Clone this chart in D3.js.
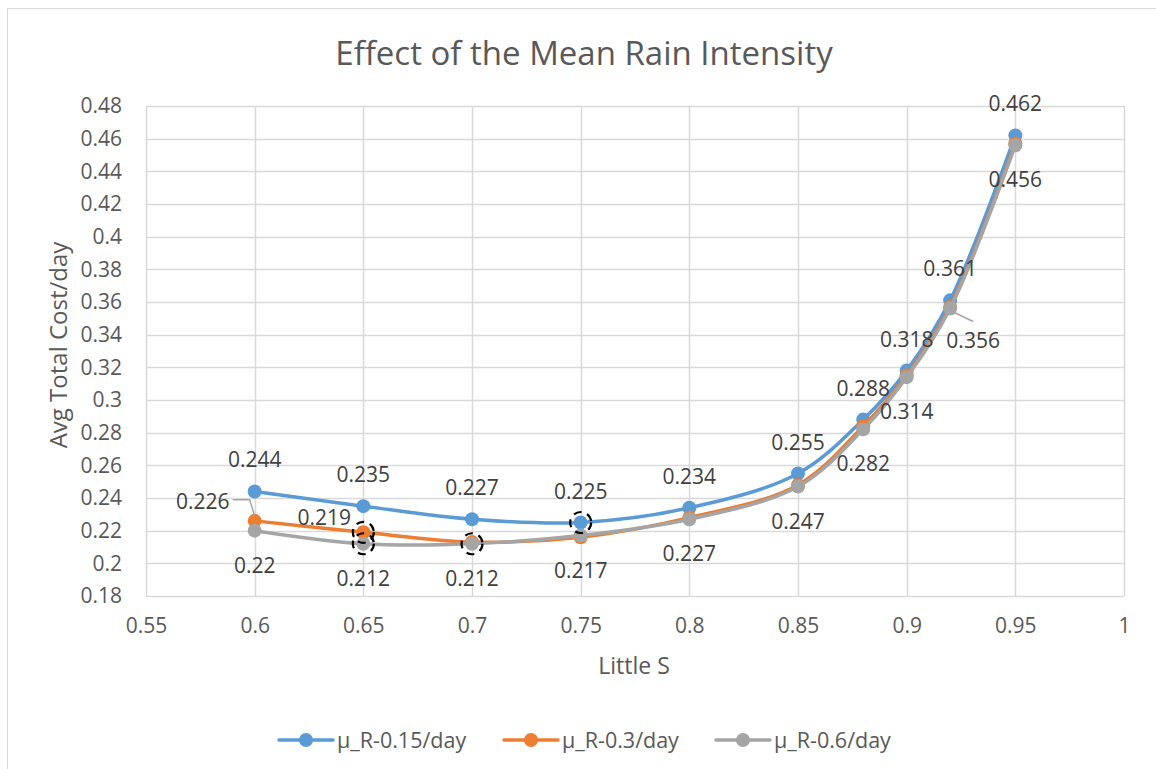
<!DOCTYPE html>
<html>
<head>
<meta charset="utf-8">
<script src="https://cdn.jsdelivr.net/npm/d3@7/dist/d3.min.js"></script>
<style>
  html, body { margin: 0; padding: 0; background: #fff; }
  svg { display: block; font-family: "Open Sans", "Noto Sans", sans-serif; }
</style>
</head>
<body>
<svg id="chart" width="1156" height="769"></svg>
<script>
// ---------------- DATA ----------------
const littleS = [0.6, 0.65, 0.7, 0.75, 0.8, 0.85, 0.88, 0.9, 0.92, 0.95];
const costR015 = [0.244, 0.235, 0.227, 0.225, 0.234, 0.255, 0.288, 0.318, 0.361, 0.462];
const costR03  = [0.226, 0.219, 0.213, 0.216, 0.228, 0.248, 0.284, 0.315, 0.357, 0.457];
const costR06  = [0.220, 0.212, 0.212, 0.217, 0.227, 0.247, 0.282, 0.314, 0.356, 0.456];
const seriesNames = ["μ_R-0.15/day", "μ_R-0.3/day", "μ_R-0.6/day"];
const xTicks = [0.55, 0.6, 0.65, 0.7, 0.75, 0.8, 0.85, 0.9, 0.95, 1];
const yTicks = [0.18, 0.2, 0.22, 0.24, 0.26, 0.28, 0.3, 0.32, 0.34, 0.36, 0.38, 0.4, 0.42, 0.44, 0.46, 0.48];
// which points get a data label (index lists), and the highlighted minima (dashed circles)
const labelledR015 = [0, 1, 2, 3, 4, 5, 6, 7, 8, 9];
const labelledR03  = [0, 1];
const labelledR06  = [0, 1, 2, 3, 4, 5, 6, 7, 8, 9];
const circledR015 = [3];
const circledR03  = [1];
const circledR06  = [1, 2];

// ---------------- STYLE / LAYOUT ----------------
const colors = ["#5B9BD5", "#ED7D31", "#A5A5A5"];
const plot = { left: 146, right: 1124, top: 106, bottom: 596 };
const textColor = "#404040";
const fontSize = 21;

const svg = d3.select("#chart");

// chart-area border
svg.append("rect").attr("x", 7.5).attr("y", 8.5).attr("width", 1160).attr("height", 780)
  .attr("fill", "#fff").attr("stroke", "#d9d9d9").attr("stroke-width", 1);

const x = d3.scaleLinear().domain([0.55, 1]).range([plot.left, plot.right]);
const y = d3.scaleLinear().domain([0.18, 0.48]).range([plot.bottom, plot.top]);

// gridlines
const g = svg.append("g");
g.selectAll(".hg").data(yTicks).join("line")
  .attr("x1", plot.left).attr("x2", plot.right)
  .attr("y1", d => Math.round(y(d)) + 0.5).attr("y2", d => Math.round(y(d)) + 0.5)
  .attr("stroke", "#d9d9d9").attr("stroke-width", 1.5);
g.selectAll(".vg").data(xTicks).join("line")
  .attr("y1", plot.top).attr("y2", plot.bottom)
  .attr("x1", d => Math.round(x(d)) + 0.5).attr("x2", d => Math.round(x(d)) + 0.5)
  .attr("stroke", "#d9d9d9").attr("stroke-width", 1.5);

// axes (labels only, via d3 axes)
const yAxis = d3.axisLeft(y).tickValues(yTicks).tickSize(0).tickPadding(24)
  .tickFormat(d => String(+d.toFixed(2)));
const xAxis = d3.axisBottom(x).tickValues(xTicks).tickSize(0).tickPadding(22)
  .tickFormat(d => String(+d.toFixed(2)));
const ya = svg.append("g").attr("transform", `translate(${plot.left},0)`).call(yAxis);
const xa = svg.append("g").attr("transform", `translate(0,${plot.bottom})`).call(xAxis);
[ya, xa].forEach(a => {
  a.select(".domain").remove();
  a.selectAll("text").attr("fill", "#595959").style("font-size", fontSize + "px")
    .style("font-family", '"Open Sans", sans-serif');
});

// title & axis titles
svg.append("text").attr("x", 584).attr("y", 65).attr("text-anchor", "middle")
  .attr("fill", "#595959").style("font-size", "33px").text("Effect of the Mean Rain Intensity");
svg.append("text").attr("x", 634).attr("y", 674).attr("text-anchor", "middle")
  .attr("fill", "#595959").style("font-size", "23px").text("Little S");
svg.append("text").attr("transform", "translate(67,345) rotate(-90)").attr("text-anchor", "middle")
  .attr("fill", "#595959").style("font-size", "24px").text("Avg Total Cost/day");

// series
const series = [costR015, costR03, costR06].map((vals, i) => ({
  name: seriesNames[i], color: colors[i],
  pts: littleS.map((s, j) => ({ s, v: vals[j] }))
}));
const line = d3.line().x(d => x(d.s)).y(d => y(d.v)).curve(d3.curveCatmullRom.alpha(0.5));

series.forEach(sr => {
  svg.append("path").datum(sr.pts).attr("d", line).attr("fill", "none")
    .attr("stroke", sr.color).attr("stroke-width", 3.5).attr("stroke-linecap", "round");
  svg.append("g").selectAll("circle").data(sr.pts).join("circle")
    .attr("cx", d => x(d.s)).attr("cy", d => y(d.v)).attr("r", 7).attr("fill", sr.color);
});

// dashed circles around minima
const circled = [circledR015, circledR03, circledR06];
circled.forEach((idx, i) => {
  idx.forEach(j => {
    svg.append("circle").attr("cx", x(littleS[j])).attr("cy", y(series[i].pts[j].v)).attr("r", 10.5)
      .attr("fill", "none").attr("stroke", "#000").attr("stroke-width", 2.2)
      .attr("stroke-dasharray", "8,6");
  });
});

// data labels
const labelSets = [labelledR015, labelledR03, labelledR06];
const defaultOffset = [[0, -31], [0, -31], [0, 35]];
const specialOffset = {
  "1-0": [-52, -19, true],
  "1-1": [-39, -14, false],
  "2-8": [23, 32, true]
};
labelSets.forEach((idx, i) => {
  idx.forEach(j => {
    const p = series[i].pts[j];
    const px = x(p.s), py = y(p.v);
    const sp = specialOffset[i + "-" + j];
    const off = sp ? sp : defaultOffset[i];
    const lx = px + off[0], ly = py + off[1];
    if (sp && sp[2]) {
      if (i === 1) {
        svg.append("polyline")
          .attr("points", `${lx + 30},${ly - 2} ${px - 5},${ly - 2} ${px},${py - 5}`)
          .attr("fill", "none").attr("stroke", "#a6a6a6").attr("stroke-width", 1.5);
      } else {
        svg.append("line").attr("x1", px).attr("y1", py + 2).attr("x2", lx).attr("y2", ly - 19)
          .attr("stroke", "#a6a6a6").attr("stroke-width", 1.5);
      }
    }
    svg.append("text").attr("x", lx).attr("y", ly + 7).attr("text-anchor", "middle")
      .attr("fill", textColor).style("font-size", fontSize + "px")
      .text(String(p.v));
  });
});

// legend
const legendX = [279, 504, 716];
series.forEach((sr, i) => {
  const lg = svg.append("g").attr("transform", `translate(${legendX[i]},740)`);
  lg.append("line").attr("x1", 0).attr("x2", 54).attr("y1", 0).attr("y2", 0)
    .attr("stroke", sr.color).attr("stroke-width", 3.5).attr("stroke-linecap", "round");
  lg.append("circle").attr("cx", 27).attr("cy", 0).attr("r", 7).attr("fill", sr.color);
  lg.append("text").attr("x", 58).attr("y", 7.5).attr("fill", "#595959")
    .style("font-size", "21.5px").text(sr.name);
});
</script>
</body>
</html>
